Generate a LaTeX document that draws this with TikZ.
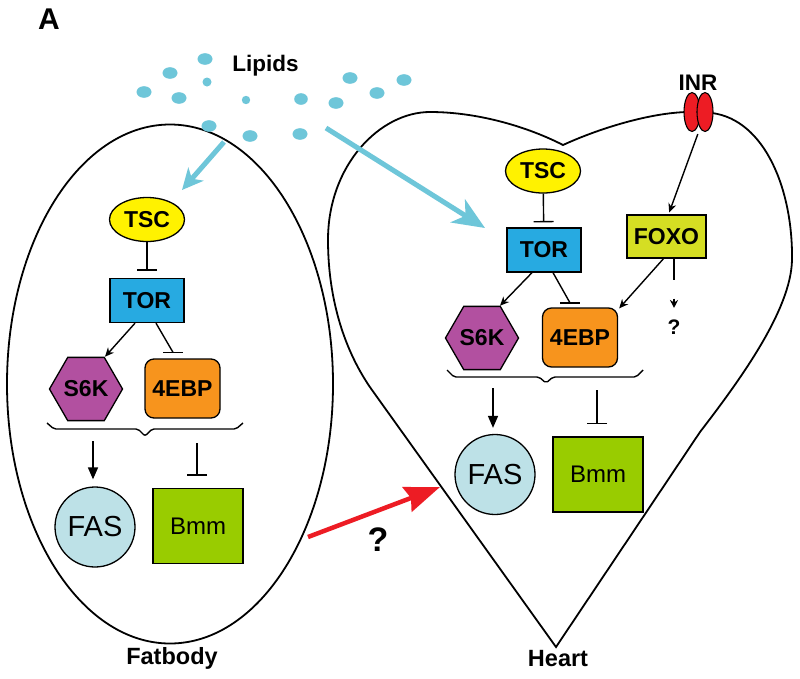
\documentclass[tikz,border=0pt]{standalone}
\usepackage{fontspec}
\setmainfont{Liberation Sans}
\usetikzlibrary{arrows.meta,shapes.geometric}
\definecolor{lipid}{RGB}{110,198,217}
\definecolor{tscY}{RGB}{255,242,0}
\definecolor{torB}{RGB}{39,170,225}
\definecolor{s6kP}{RGB}{178,80,160}
\definecolor{ebpO}{RGB}{247,148,29}
\definecolor{foxoG}{RGB}{213,222,35}
\definecolor{fasB}{RGB}{189,225,231}
\definecolor{bmmG}{RGB}{153,204,0}
\definecolor{inrR}{RGB}{237,28,36}
\tikzset{
 lbl/.style={inner sep=0pt, font=\bfseries\fontsize{22.5}{25}\selectfont},
 box/.style={draw, line width=1.3pt, inner sep=0pt, font=\bfseries\fontsize{23}{26}\selectfont},
 tscnode/.style={box, ellipse, fill=tscY, minimum width=75pt, minimum height=44pt},
 tornode/.style={box, fill=torB, minimum width=74pt, minimum height=44pt},
 ebpnode/.style={box, fill=ebpO, rounded corners=9pt, minimum width=75pt, minimum height=59pt},
 s6knode/.style={box, fill=s6kP, regular polygon, regular polygon sides=6, minimum size=71pt},
 foxonode/.style={box, fill=foxoG, minimum width=79pt, minimum height=43pt},
 fasnode/.style={draw, line width=1.3pt, circle, fill=fasB, minimum size=80pt, inner sep=0pt, font=\fontsize{29}{31}\selectfont},
 bmmnode/.style={draw, line width=1.3pt, fill=bmmG, minimum width=90pt, minimum height=75pt, inner sep=0pt, font=\fontsize{24}{27}\selectfont},
 act/.style={line width=1.4pt, -{Stealth[length=9pt,width=8pt]}},
 actbig/.style={line width=1.6pt, -{Triangle[length=12pt,width=10pt]}},
 inh/.style={line width=1.4pt, -{Bar[width=20pt]}},
 conn/.style={line width=1.4pt},
 brace/.style={line width=1.4pt, rounded corners=2pt},
 organ/.style={line width=1.8pt},
 dot/.style={fill=lipid, draw=none},
 lipidsmall/.style={draw=lipid, line width=5pt, -{Stealth[length=21pt,width=20pt,inset=6pt]}},
 lipidbig/.style={draw=lipid, line width=5pt, -{Stealth[length=32pt,width=27pt,inset=9pt]}},
 redarrow/.style={draw=inrR, line width=4.5pt, -{Stealth[length=35pt,width=26pt,inset=4pt]}},
}
\begin{document}
\begin{tikzpicture}[x=1pt,y=-1pt]
\useasboundingbox[fill=white] (0,0) rectangle (800,678);

% ---------- organ outlines ----------
\node[draw, organ, ellipse, minimum width=326pt, minimum height=519pt, inner sep=0pt] (fatbody) at (170,384) {};
\draw[organ] (556,647) -- (372,390)
  .. controls (345,352) and (328,300) .. (328,240)
  .. controls (328,165) and (380,112) .. (430,112)
  .. controls (480,112) and (530,128) .. (563,145)
  .. controls (600,128) and (650,113) .. (687,112)
  -- (712,113)
  .. controls (765,120) and (793,190) .. (792,260)
  .. controls (791,310) and (740,380) .. (700,432)
  -- cycle;

% ---------- labels ----------
\node[lbl, font=\bfseries\fontsize{30}{32}\selectfont] (labA) at (49,19) {A};
\node[lbl, anchor=base] (lipids) at (265.5,71) {Lipids};
\node[lbl, anchor=base, font=\bfseries\fontsize{23.5}{26}\selectfont] (fatlbl) at (172,664) {Fatbody};
\node[lbl, anchor=base, font=\bfseries\fontsize{23.5}{26}\selectfont] (heartlbl) at (558,666) {Heart};

% ---------- lipid droplets ----------
\foreach \x/\y/\rx/\ry in {205/59/7.5/5.8, 170/73/7.5/5.8, 207/82/4.5/4.5, 144/92/7.5/5.8,
  179/98/7.5/5.8, 246/100/4.2/4.2, 301/99/6.8/5.8, 336/103/7.5/5.8, 350/78/7.5/5.8,
  377/93/7.5/5.8, 404/80/7.5/5.8, 209/126/7.5/5.8, 250/136/7.5/5.8, 300/134/7.5/5.8}
  \fill[dot] (\x,\y) ellipse [x radius=\rx, y radius=\ry];
\coordinate (lipA) at (224,142);
\coordinate (lipB) at (326,128);
\coordinate (fatIn) at (182,190);
\coordinate (heartIn) at (485,228);
\draw[lipidsmall] (lipA) -- (fatIn);
\draw[lipidbig] (lipB) -- (heartIn);

% ---------- fatbody pathway ----------
\node[tscnode] (tsc1) at (147,219.5) {TSC};
\node[tornode] (tor1) at (147,300.5) {TOR};
\node[s6knode] (s6k1) at (86,389) {S6K};
\node[ebpnode] (ebp1) at (182.5,388.5) {4EBP};
\node[fasnode] (fas1) at (95,527) {FAS};
\node[bmmnode] (bmm1) at (198,526) {Bmm};

\draw[inh, shorten >=7pt] (tsc1) -- (tor1);
\draw[act] ([xshift=-12pt]tor1.south) -- ([xshift=19pt]s6k1.north);
\coordinate (b1) at ([xshift=-9.5pt,yshift=6pt]ebp1.north);
\draw[conn] ([xshift=9pt]tor1.south) -- (b1);
\draw[conn] ([xshift=-10pt]b1) -- ([xshift=10pt]b1);
\draw[brace] (47,423) -- (54,429) -- (138,429) -- (145,436) -- (152,429) -- (236,429) -- (243,423);
\coordinate (fb1) at (93,441);
\coordinate (fb2) at (197,443);
\draw[actbig, shorten >=7pt] (fb1) -- (fb1 |- fas1.north);
\draw[inh, shorten >=12pt] (fb2) -- (fb2 |- bmm1.north);

% ---------- heart pathway ----------
\node[tscnode] (tsc2) at (543,171) {TSC};
\node[tornode] (tor2) at (544,250) {TOR};
\node[foxonode] (foxo) at (666.5,236.5) {FOXO};
\node[s6knode] (s6k2) at (482,338) {S6K};
\node[ebpnode] (ebp2) at (580,337.5) {4EBP};
\node[fasnode] (fas2) at (495,474.5) {FAS};
\node[bmmnode] (bmm2) at (598,474.5) {Bmm};

\node[minimum width=29pt, minimum height=40pt, inner sep=0pt] (inr) at (698.5,112) {};
\draw[fill=inrR, line width=1.1pt] ([xshift=-6.5pt]inr.center) ellipse [x radius=8, y radius=19.5];
\draw[fill=inrR, line width=1.1pt] ([xshift=6.5pt]inr.center) ellipse [x radius=8, y radius=19.5];
\node[lbl] (inrlbl) at (698,82.5) {INR};

\draw[inh, shorten >=5pt] (tsc2) -- (tor2);
\draw[act] ([xshift=-12pt]tor2.south) -- ([xshift=18pt]s6k2.north);
\coordinate (b2) at ([xshift=-10pt,yshift=4.5pt]ebp2.north);
\draw[conn] ([xshift=9pt]tor2.south) -- (b2);
\draw[conn] ([xshift=-10pt]b2) -- ([xshift=10pt]b2);
\draw[act, shorten <=2pt, shorten >=2pt] (inr.south) -- ([xshift=2pt]foxo.north);
\draw[act] ([xshift=-3pt]foxo.south) -- ([xshift=1pt,yshift=-1pt]ebp2.north east);
\node[lbl, font=\bfseries\fontsize{21}{23}\selectfont] (q2) at (674,327.5) {?};
\draw[line width=1.4pt, dash pattern=on 21pt off 19pt, -{Stealth[length=8pt,width=8pt]}, shorten >=12pt]
  ([xshift=7.5pt]foxo.south) -- ([xshift=7.5pt]foxo.south |- q2.north);
\draw[brace] (447,370) -- (454,377) -- (539,377) -- (546,383) -- (553,377) -- (636,377) -- (643,370);
\coordinate (hb1) at (493,388);
\coordinate (hb2) at (597,390);
\draw[actbig, shorten >=6pt] (hb1) -- (hb1 |- fas2.north);
\draw[inh, shorten >=12pt] (hb2) -- (hb2 |- bmm2.north);

% ---------- fatbody to heart ----------
\coordinate (redS) at (308,537);
\coordinate (redE) at (440,487);
\draw[redarrow] (redS) -- (redE);
\node[lbl, font=\bfseries\fontsize{34}{37}\selectfont] (q1) at (378,539.5) {?};
\end{tikzpicture}
\end{document}
